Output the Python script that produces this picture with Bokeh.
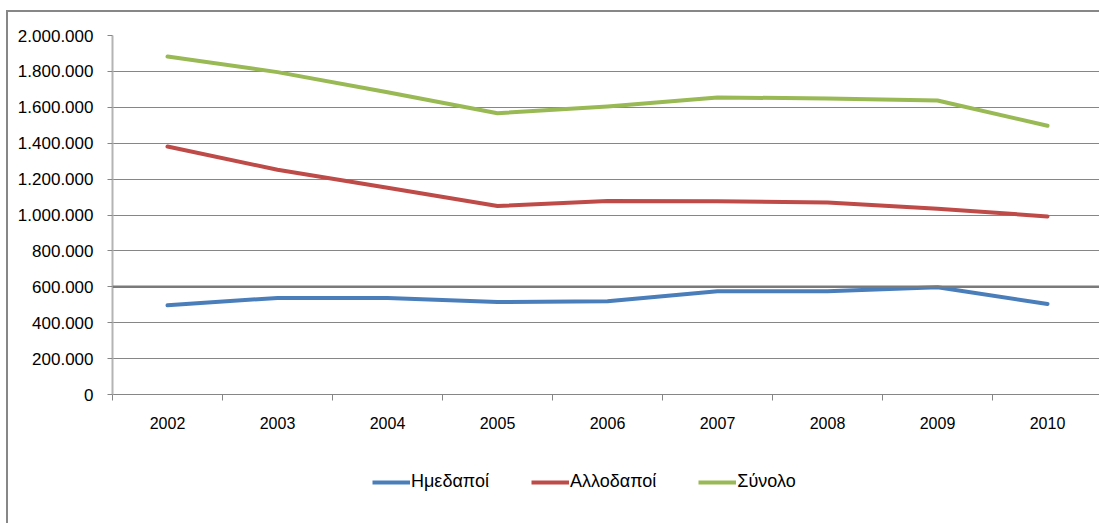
from bokeh.plotting import figure
from bokeh.layouts import column
from bokeh.models import (Range1d, FixedTicker, Legend, LegendItem, Span)
from bokeh.embed import file_html
from bokeh.resources import INLINE

# ---- data ----
years = [2002, 2003, 2004, 2005, 2006, 2007, 2008, 2009, 2010]
year_labels = ["2002", "2003", "2004", "2005", "2006", "2007", "2008", "2009", "2010"]
imedapoi = [497000, 538000, 538000, 515000, 519000, 575000, 575000, 597000, 504000]
allodapoi = [1382000, 1252000, 1152000, 1050000, 1078000, 1076000, 1070000, 1035000, 992000]
synolo = [1883000, 1796000, 1684000, 1567000, 1605000, 1655000, 1649000, 1638000, 1497000]
series_names = ["Ημεδαποί", "Αλλοδαποί", "Σύνολο"]
y_ticks = [0, 200000, 400000, 600000, 800000, 1000000, 1200000, 1400000, 1600000, 1800000, 2000000]
y_labels = ["0", "200.000", "400.000", "600.000", "800.000", "1.000.000", "1.200.000",
            "1.400.000", "1.600.000", "1.800.000", "2.000.000"]

colors = ["#4A7EBB", "#BE4B48", "#98B954"]
FONT = "Liberation Sans"
GRID = "#868686"

W, H = 1099, 523
H1 = 450
left, top = 112, 35
bottom = H1 - 394
frame_w = W - left
cat_px = 110.0

p = figure(width=W, height=H1, output_backend="svg", toolbar_location=None,
           x_range=Range1d(years[0] - 0.5, years[0] - 0.5 + frame_w / cat_px),
           y_range=Range1d(y_ticks[0], y_ticks[-1]),
           min_border_left=left, min_border_right=0, min_border_top=top,
           min_border_bottom=bottom)
p.outline_line_color = None
p.background_fill_color = "white"
p.border_fill_alpha = 0

# x axis
xa = p.xaxis[0]
xa.ticker = FixedTicker(ticks=years, minor_ticks=[y - 0.5 for y in years] + [years[-1] + 0.5])
xa.major_label_overrides = {y: l for y, l in zip(years, year_labels)}
xa.major_tick_line_color = None
xa.minor_tick_in = 0
xa.minor_tick_out = 6
xa.minor_tick_line_color = GRID
xa.axis_line_color = GRID
xa.axis_line_width = 1
xa.major_label_text_font = FONT
xa.major_label_text_font_size = "16px"
xa.major_label_text_color = "#000000"
xa.major_label_standoff = 16

# y axis
ya = p.yaxis[0]
ya.ticker = FixedTicker(ticks=y_ticks, minor_ticks=[])
ya.major_label_overrides = {t: l for t, l in zip(y_ticks, y_labels)}
ya.major_tick_in = 0
ya.major_tick_out = 5
ya.major_tick_line_color = GRID
ya.minor_tick_line_color = None
ya.axis_line_color = "#B4B4B4"
ya.axis_line_width = 2
ya.major_label_text_font = FONT
ya.major_label_text_font_size = "17px"
ya.major_label_text_color = "#000000"
ya.major_label_standoff = 14

p.xgrid.grid_line_color = None
p.ygrid.ticker = FixedTicker(ticks=y_ticks)
p.ygrid.grid_line_color = GRID
p.ygrid.grid_line_width = 1

p.add_layout(Span(location=y_ticks[3], dimension="width", line_color="#7A7A7A", line_width=2.5))

series = [imedapoi, allodapoi, synolo]
for vals, c in zip(series, colors):
    p.line(years, vals, line_color=c, line_width=4, line_cap="round", line_join="round")

# ---- legend strip below the chart (its frame is aligned with the chart's frame) ----
H2 = H - H1
lg = figure(width=W, height=H2, output_backend="svg", toolbar_location=None,
            x_range=Range1d(0, 1), y_range=Range1d(0, 1),
            x_axis_location=None, y_axis_location=None,
            min_border_left=0, min_border_right=0, min_border_top=0, min_border_bottom=0)
lg.grid.grid_line_color = None
lg.outline_line_color = None
lg.background_fill_alpha = 0
lg.border_fill_alpha = 0
# same series, drawn off this strip's visible range; only their legend samples show
lg_renderers = [lg.line(years, vals, line_color=c, line_width=4)
                for vals, c in zip(series, colors)]

legend = Legend(items=[LegendItem(label=n, renderers=[r]) for n, r in zip(series_names, lg_renderers)],
                orientation="horizontal", location=(372 - left, H2 - 42),
                label_text_font=FONT, label_text_font_size="18px", label_text_color="#000000",
                glyph_width=38, glyph_height=20, label_height=20, label_standoff=1,
                spacing=42, padding=0, margin=0, border_line_color=None,
                background_fill_alpha=0)
lg.add_layout(legend)

layout = column(p, lg, spacing=0)
# outer chart border (top and left edges)
layout.styles = {
    "background": ("linear-gradient(#878787,#878787) 6px 10px / 3000px 2px no-repeat, "
                   "linear-gradient(#878787,#878787) 6px 10px / 2px 3000px no-repeat, white"),
}

open("out.html", "w").write(file_html(layout, INLINE))
